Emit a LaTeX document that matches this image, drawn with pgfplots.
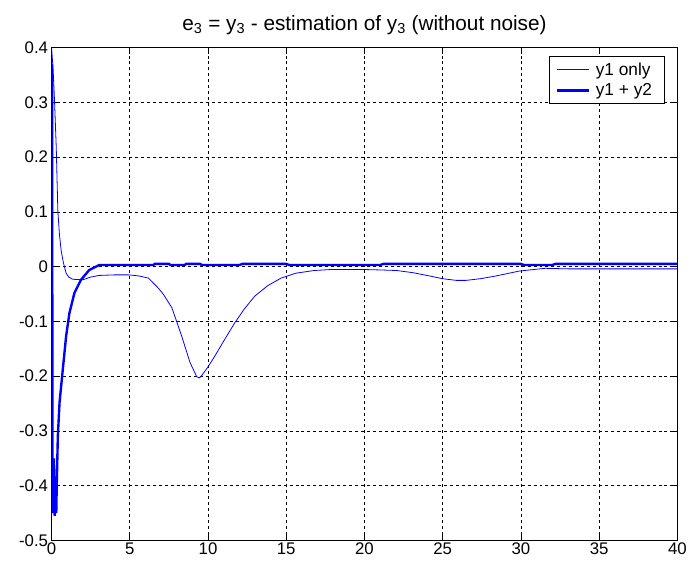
\documentclass[border=0pt]{standalone}
\usepackage{pgfplots}
\pgfplotsset{compat=1.18}
\usepackage{fontspec}
\setmainfont{Liberation Sans}

\definecolor{mblue}{RGB}{0,0,255}

\begin{document}
\begin{tikzpicture}
\begin{axis}[
    at={(0,0)}, anchor=south west,
    scale only axis,
    width=631bp, height=497bp,
    xmin=0, xmax=40, ymin=-0.5, ymax=0.4,
    xtick={0,5,...,40},
    ytick={-0.5,-0.4,...,0.4},
    yticklabel style={/pgf/number format/.cd, fixed, precision=1},
    /pgf/number format/assume math mode=true,
    tick label style={font=\fontsize{17}{19}\selectfont},
    xticklabel style={yshift=1bp},
    tick align=inside,
    major tick length=6bp,
    grid=major,
    grid style={black, dash pattern=on 3bp off 3bp, line width=0.6bp},
    axis line style={black, line width=0.8bp},
    every tick/.style={black, line width=0.6bp},
    title={e\textsubscript{3} = y\textsubscript{3} - estimation of y\textsubscript{3} (without noise)},
    title style={font=\fontsize{21}{23}\selectfont, yshift=3bp},
    legend style={at={(0.979,0.982)}, anchor=north east,
        line width=0.6bp,
        font=\fontsize{17.5}{19}\selectfont, cells={anchor=west},
        legend cell align=left, inner xsep=6bp, inner ysep=4bp,
        row sep=3bp, nodes={inner xsep=6bp}},
    legend image code/.code={\draw[#1, draw=mblue] (0bp,0bp) -- (32bp,0bp);},
]
\addplot[draw=mblue, line width=0.8bp] coordinates {
(0,0.40) (0.1,0.36) (0.19,0.302) (0.3,0.217) (0.4,0.103) (0.5,0.06)
(0.61,0.030) (0.75,0.008) (0.93,-0.012) (1.1,-0.019) (1.35,-0.023)
(1.99,-0.024) (2.5,-0.019) (3.04,-0.016) (4.0,-0.015) (4.94,-0.015)
(5.6,-0.017) (6.2,-0.021) (6.85,-0.040) (7.16,-0.051) (7.69,-0.075)
(8.32,-0.127) (8.85,-0.175) (9.28,-0.201) (9.45,-0.203) (9.59,-0.199)
(10.0,-0.183) (10.44,-0.163) (11.0,-0.136) (11.7,-0.103) (12.3,-0.078)
(12.98,-0.054) (13.8,-0.035) (14.66,-0.021) (15.6,-0.012) (16.78,-0.007)
(18.0,-0.005) (19.73,-0.005) (21.0,-0.006) (22.06,-0.007) (23.1,-0.011)
(24.17,-0.017) (25.0,-0.022) (25.86,-0.025) (26.5,-0.025) (27.4,-0.022)
(28.4,-0.017) (29.9,-0.008) (31.55,-0.003) (33,-0.004) (35,-0.004)
(37.5,-0.004) (40,-0.004)
};
\addlegendentry{y1 only}
\addplot[draw=mblue, line width=2.4bp] coordinates {
(0,0.01) (0.03,0.37) (0.06,-0.36) (0.1,-0.45) (0.15,-0.35) (0.2,-0.455)
(0.25,-0.40) (0.3,-0.45) (0.33,-0.40) (0.4,-0.31) (0.51,-0.248)
(0.72,-0.187) (0.93,-0.127) (1.14,-0.085) (1.46,-0.048) (1.88,-0.024)
(2.41,-0.006) (3.04,0.003) (4,0.003) (5,0.003) (6.5,0.003) (6.6,0.005)
(7.5,0.005) (7.6,0.003) (8.5,0.003) (8.6,0.005) (9.5,0.005) (9.6,0.003)
(12,0.003) (12.2,0.005) (15,0.005) (15.2,0.003) (21,0.003) (21.2,0.005)
(30,0.005) (30.2,0.003) (32,0.003) (32.2,0.005) (40,0.005)
};
\addlegendentry{y1 + y2}
\end{axis}
\path[use as bounding box] (-52bp,-25bp) rectangle (638bp,545bp);
\end{tikzpicture}
\end{document}
